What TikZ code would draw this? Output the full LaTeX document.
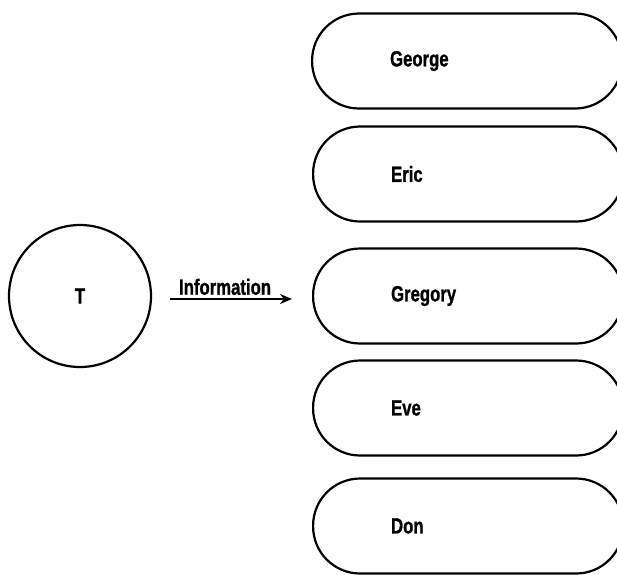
\documentclass[tikz,border=0pt]{standalone}
\usepackage{fontspec}
\setmainfont{Liberation Sans}
\newfontfamily\heavyfont[FakeBold=1.2]{Liberation Sans Bold}
\usetikzlibrary{arrows.meta}
\newcommand{\lbl}[1]{\scalebox{0.76}[1]{\heavyfont\fontsize{22}{26}\selectfont #1}}
\tikzset{
  every picture/.style={line width=2.2pt},
  pill/.style={draw, rectangle, rounded corners=47pt, minimum width=310pt, minimum height=95pt,
               inner xsep=78pt, text width=154pt, align=left, anchor=west},
  person/.style={draw, circle, minimum size=142pt, inner sep=0pt},
  flow/.style={-{Stealth[length=12pt,width=10pt]}, line width=2.2pt}
}
\begin{document}
\begin{tikzpicture}[x=1pt,y=-1pt]
\useasboundingbox (0,0) rectangle (617,574);
\clip (0,0) rectangle (617,574);
\node[person] (T) at (80,296) {\lbl{T}};
\node[pill] (george) at (311,61) {\lbl{George}};
\node[pill] (eric) at (312,174) {\lbl{Eric}};
\node[pill] (gregory) at (312,296) {\lbl{Gregory}};
\node[pill] (eve) at (312,408) {\lbl{Eve}};
\node[pill] (don) at (312,526) {\lbl{Don}};
\draw[flow, shorten <=18pt, shorten >=20pt] ([yshift=-3pt]T.east) -- ([yshift=-3pt]gregory.west)
  node[midway, above, inner sep=3pt, xshift=-7pt] (info) {\lbl{Information}};
\end{tikzpicture}
\end{document}
